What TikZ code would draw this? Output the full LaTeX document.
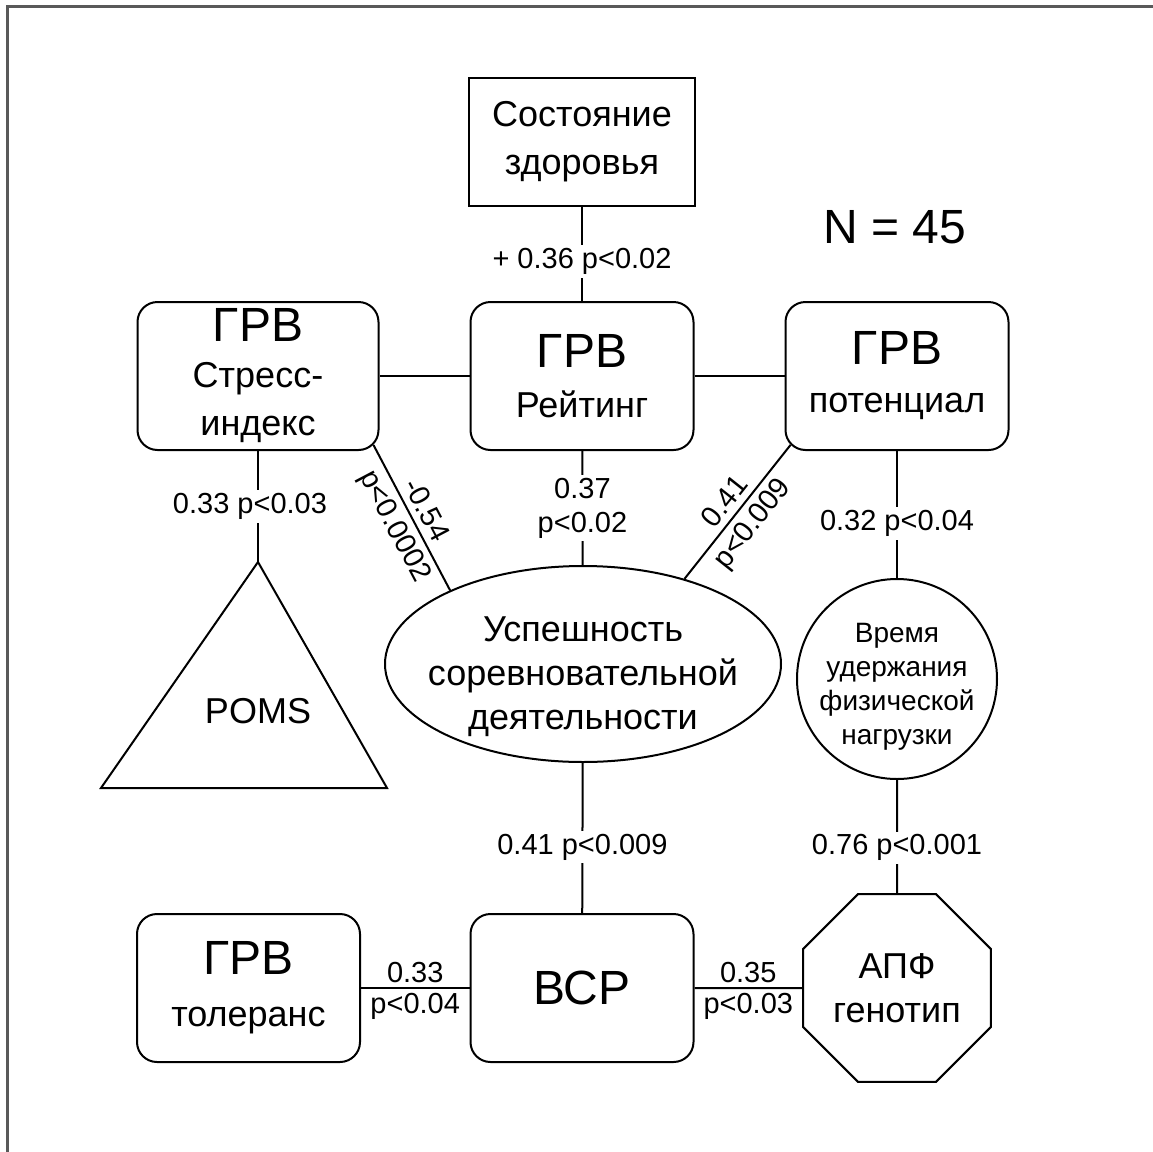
\documentclass[tikz,border=0pt]{standalone}
\usepackage{fontspec}
\setmainfont{Liberation Sans}
\usetikzlibrary{shapes.geometric}
\newcommand*\grvfont{\fontsize{24}{26}\selectfont}
\newcommand*\txtfont{\fontsize{18}{21}\selectfont}
\newcommand*\coeffont{\fontsize{14.5}{17}\selectfont}
\newcommand*\timefont{\fontsize{14}{17}\selectfont}
\tikzset{
    box/.style = {draw,line width=1pt,rounded corners=10pt,inner sep=1pt,
        minimum width=111.5pt,minimum height=74pt,align=center,font=\txtfont},
    link/.style = {line width=1pt},
    coef/.style = {fill=white,inner sep=1.5pt,align=center,font=\coeffont},
    side/.style = {inner sep=2pt,font=\coeffont},
    slopeside/.style = {side,inner sep=3pt,sloped},
    frame/.style = {line width=1.5pt,black!65}
}

\begin{document}
\begin{tikzpicture}[x=0.5pt,y=-0.5pt]
        \newcommand*\colL{258}
        \newcommand*\colM{582}
        \newcommand*\colR{897}
        \useasboundingbox (0,0) rectangle (1153,1152);
        % Frame
        \draw[frame] (7,1152) -- (7,6) -- (1153,6);
        % Boxes
        \node[box,sharp corners,minimum width=113pt,minimum height=64pt] (Health) at (\colM,142) {Состояние\\[3pt]здоровья};
        \node[font=\grvfont] (N) at (895,227) {N = 45};
        \node[box,minimum width=120.5pt] (Stress) at (\colL,376) {{\grvfont ГРВ}\\[2pt]Стресс-\\[3pt]индекс};
        \node[box] (Rating) at (\colM,376) {{\grvfont ГРВ}\\[4pt]Рейтинг};
        \node[box] (Pot) at (\colR,376) {{\grvfont ГРВ}\\[3pt]потенциал};
        \node[box] (Tol) at (248.5,988) {{\grvfont ГРВ}\\[5pt]толеранс};
        \node[box,font=\grvfont] (VSR) at (\colM,988) {ВСР};
        % Other shapes
        \node[draw,ellipse,line width=1pt,minimum width=198pt,minimum height=98pt] (Succ) at (583,664) {};
        \node[align=center,font=\txtfont,yshift=-6.5pt] (SuccText) at (Succ) {Успешность\\[1pt]соревновательной\\[1pt]деятельности};
        \node[draw,circle,line width=1pt,inner sep=0pt,minimum size=100pt] (Time) at (\colR,679) {};
        \node[align=center,font=\timefont,yshift=-4pt] (TimeText) at (Time) {Время\\удержания\\физической\\нагрузки};
        \node[draw,regular polygon,regular polygon sides=8,line width=1pt,inner sep=0pt,minimum size=101.7pt,align=center,font=\txtfont] (Gene) at (\colR,988) {АПФ\\[1pt]генотип};
        \coordinate (PomsTop) at (\colL,562);
        \draw[link] (PomsTop) -- (101,788) -- (387,788) -- cycle;
        \node[font=\txtfont] (Poms) at (\colL,711) {POMS};
        % Links
        \draw[link] (Health) -- node[coef,pos=0.58] {+ 0.36 p<0.02} (Rating);
        \draw[link] (Stress) -- (Rating);
        \draw[link] (Rating) -- (Pot);
        \draw[link] (Stress) -- node[coef,xshift=-4pt] {0.33 p<0.03} (PomsTop);
        \draw[link] (Rating) -- node[coef] {0.37\\p<0.02} (Succ);
        \draw[link] ([xshift=-3pt,yshift=3pt]Stress.south east) -- node[slopeside,above] {-0.54} node[slopeside,below] {p<0.0002} (Succ.151);
        \draw[link] (Succ.40) -- node[slopeside,above] {0.41} node[slopeside,below] {p<0.009} ([xshift=3pt,yshift=3pt]Pot.south west);
        \draw[link] (Pot) -- node[coef,pos=0.57] {0.32 p<0.04} (Time);
        \draw[link] (Succ) -- node[coef,pos=0.56] {0.41 p<0.009} (VSR);
        \draw[link] (Time) -- node[coef,pos=0.6] {0.76 p<0.001} (Gene);
        \draw[link] (Tol) -- node[side,above] {0.33} node[side,below] {p<0.04} (VSR);
        \draw[link] (VSR) -- node[side,above] {0.35} node[side,below] {p<0.03} (Gene);
    \end{tikzpicture}
\end{document}
